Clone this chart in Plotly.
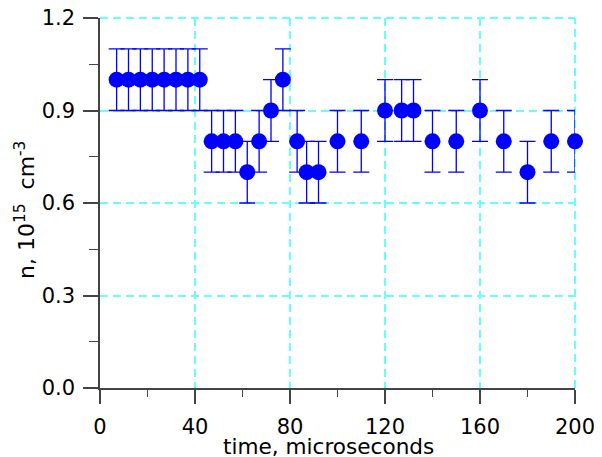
import plotly.graph_objects as go

time_us = [7, 12, 17, 22, 27, 32, 37, 42, 47, 52, 57, 62, 67, 72, 77, 83, 87, 92,
           100, 110, 120, 127, 132, 140, 150, 160, 170, 180, 190, 200]
density = [1.0, 1.0, 1.0, 1.0, 1.0, 1.0, 1.0, 1.0,
           0.8, 0.8, 0.8, 0.7, 0.8, 0.9, 1.0, 0.8, 0.7, 0.7,
           0.8, 0.8, 0.9, 0.9, 0.9, 0.8, 0.8, 0.9, 0.8, 0.7, 0.8, 0.8]
density_err = [0.1] * len(density)

x_ticks = [0, 40, 80, 120, 160, 200]
y_ticks = [0.0, 0.3, 0.6, 0.9, 1.2]

FONT = "DejaVu Sans"
AXIS_COLOR = "#444444"
GRID_COLOR = "rgb(100,255,255)"
GRID_DASH = "8px,5px"

fig = go.Figure()
fig.add_trace(go.Scatter(
    x=time_us, y=density, mode="markers",
    marker=dict(color="#0000FF", size=16, line=dict(width=0)),
    error_y=dict(type="data", array=density_err, visible=True,
                 color="#0000FF", thickness=1.3, width=8),
    cliponaxis=False, showlegend=False,
))

# the page body has an 8px margin, so the figure is 8px smaller and shifted
fig.update_layout(
    width=594, height=449,
    margin=dict(l=92, r=27, t=10, b=69, autoexpand=False),
    paper_bgcolor="white", plot_bgcolor="white",
    font=dict(family=FONT, size=20, color="black"),
    xaxis=dict(
        range=[0, 200], tickvals=x_ticks, ticktext=[str(v) for v in x_ticks],
        automargin=False, ticklabeloverflow="allow",
        showline=True, linecolor=AXIS_COLOR, linewidth=1.5,
        ticks="outside", ticklen=14, tickwidth=1.5, tickcolor=AXIS_COLOR,
        ticklabelstandoff=5,
        showgrid=True, gridcolor=GRID_COLOR, gridwidth=2, griddash=GRID_DASH,
        zeroline=False,
        minor=dict(dtick=20, tick0=0, ticks="outside", ticklen=7, tickwidth=1,
                   tickcolor=AXIS_COLOR, showgrid=False),
        tickfont=dict(family=FONT, size=21),
    ),
    yaxis=dict(
        range=[0, 1.2], tickvals=y_ticks, ticktext=[f"{v:.1f}" for v in y_ticks],
        automargin=False, ticklabeloverflow="allow",
        showline=True, linecolor=AXIS_COLOR, linewidth=1.5,
        ticks="outside", ticklen=15, tickwidth=1.5, tickcolor=AXIS_COLOR,
        ticklabelstandoff=4,
        showgrid=True, gridcolor=GRID_COLOR, gridwidth=2, griddash=GRID_DASH,
        zeroline=False,
        minor=dict(dtick=0.15, tick0=0, ticks="outside", ticklen=9, tickwidth=1,
                   tickcolor=AXIS_COLOR, showgrid=False),
        tickfont=dict(family=FONT, size=21),
    ),
    shapes=[
        dict(type="line", xref="paper", yref="paper", x0=0, x1=1, y0=1, y1=1,
             line=dict(color=GRID_COLOR, width=2, dash=GRID_DASH), layer="below"),
        dict(type="line", xref="paper", yref="paper", x0=1, x1=1, y0=0, y1=1,
             line=dict(color=GRID_COLOR, width=2, dash=GRID_DASH), layer="below"),
    ],
    annotations=[
        dict(text="time, microseconds", xref="paper", yref="paper",
             x=0.48, y=-0.157, xanchor="center", yanchor="middle",
             showarrow=False, font=dict(family=FONT, size=21.6)),
        dict(text="n, 10<sup>15</sup>  cm<sup>-3</sup>", xref="paper", yref="paper",
             x=-0.158, y=0.481, xanchor="center", yanchor="middle", textangle=-90,
             showarrow=False, font=dict(family=FONT, size=22)),
    ],
)

fig.write_html("out.html")
